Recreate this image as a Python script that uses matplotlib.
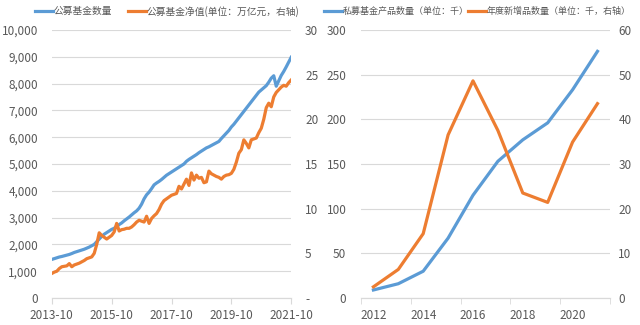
import numpy as np
import matplotlib
matplotlib.use("Agg")
import matplotlib.pyplot as plt
from matplotlib.lines import Line2D
from matplotlib.ticker import FuncFormatter, FixedLocator

plt.rcParams['font.family'] = ['Noto Sans CJK SC', 'DejaVu Sans']

# monthly, 2013-10 .. 2021-10
fund_count = [
    1440, 1470, 1500, 1530, 1550, 1575, 1600, 1625, 1660, 1700, 1730, 1760,
    1790, 1820, 1860, 1900, 1950, 2000, 2100, 2200, 2300, 2380, 2440, 2500,
    2560, 2600, 2680, 2740, 2800, 2880, 2950, 3020, 3100, 3180, 3250, 3350,
    3500, 3700, 3850, 3950, 4080, 4220, 4290, 4350, 4420, 4500, 4580, 4640,
    4700, 4760, 4820, 4880, 4940, 5000, 5100, 5170, 5230, 5290, 5350, 5420,
    5480, 5540, 5600, 5640, 5690, 5740, 5790, 5840, 5950, 6050, 6150, 6250,
    6380, 6480, 6600, 6720, 6840, 6960, 7080, 7200, 7320, 7440, 7560, 7680,
    7760, 7840, 7920, 8050, 8200, 8290, 7900, 8100, 8300, 8450, 8620, 8800,
    8980,
]
net_value = [
    2.75, 2.9, 3.0, 3.3, 3.5, 3.55, 3.6, 3.85, 3.5, 3.7, 3.8, 3.9,
    4.05, 4.2, 4.4, 4.5, 4.6, 5.0, 6.0, 7.3, 7.0, 6.8, 6.6, 6.8,
    7.0, 7.4, 8.35, 7.5, 7.65, 7.7, 7.8, 7.8, 7.95, 8.2, 8.5, 8.7,
    8.6, 8.5, 9.15, 8.35, 8.9, 9.2, 9.45, 9.9, 10.5, 10.9, 11.1, 11.3,
    11.5, 11.6, 11.7, 12.5, 12.2, 12.75, 13.3, 12.6, 14.0, 13.2, 13.75, 13.4,
    13.5, 12.9, 13.0, 14.2, 13.9, 13.75, 13.6, 13.5, 13.3, 13.6, 13.75, 13.8,
    13.95, 14.4, 15.2, 16.2, 16.6, 17.7, 17.3, 16.8, 17.7, 17.8, 17.9, 18.5,
    19.0, 20.0, 21.3, 21.8, 21.4, 22.5, 23.0, 23.3, 23.6, 23.8, 23.7, 24.1,
    24.4,
]
month_labels = ['2013-10', '2015-10', '2017-10', '2019-10', '2021-10']

years = [2012, 2013, 2014, 2015, 2016, 2017, 2018, 2019, 2020, 2021]
private_products = [9, 16, 30, 67, 115, 153, 177, 196, 233, 276]
new_products = [2.5, 6.4, 14.4, 36.5, 48.6, 37.5, 23.5, 21.4, 34.9, 43.5]

BLUE = '#5B9BD5'
ORANGE = '#ED7D31'
GRID = '#D9D9D9'
TXT = '#595959'
LW = 2.3

fig = plt.figure(figsize=(6.4, 3.25), dpi=100)


def style(ax, pad):
    for s in ax.spines.values():
        s.set_visible(False)
    ax.tick_params(axis='y', length=0, labelsize=8.5, labelcolor=TXT, pad=pad)
    ax.tick_params(axis='x', labelsize=8.5, labelcolor=TXT, color=GRID,
                   length=4, pad=4)
    ax.spines['bottom'].set_visible(True)
    ax.spines['bottom'].set_color(GRID)


# left panel: public funds
ax1 = fig.add_axes([0.081, 0.083, 0.374, 0.825])
ax1b = ax1.twinx()
months = np.arange(len(fund_count))
ax1.plot(months, fund_count, color=BLUE, lw=LW, zorder=3)
ax1b.plot(months, net_value, color=ORANGE, lw=LW, zorder=3)
ax1.set_xlim(0, 96)
ax1.set_ylim(0, 10000)
ax1b.set_ylim(0, 30)
ax1.set_yticks(np.arange(0, 10001, 1000))
ax1b.set_yticks(np.arange(0, 31, 5))
ax1.yaxis.set_major_formatter(FuncFormatter(lambda v, p: f'{v:,.0f}'))
ax1b.yaxis.set_major_formatter(FuncFormatter(lambda v, p: '-' if v == 0 else f'{v:.0f}'))
ax1.set_xticks(np.arange(0, 97, 24))
ax1.set_xticklabels(month_labels)
ax1.grid(axis='y', color=GRID, lw=0.8)
ax1.set_axisbelow(True)
style(ax1, 10)
style(ax1b, 10)

# right panel: private funds
ax2 = fig.add_axes([0.564, 0.083, 0.389, 0.825])
ax2b = ax2.twinx()
pos = np.arange(len(years))
ax2.plot(pos, private_products, color=BLUE, lw=LW, zorder=3)
ax2b.plot(pos, new_products, color=ORANGE, lw=LW, zorder=3)
ax2.set_xlim(-0.5, len(years) - 0.5)
ax2.set_ylim(0, 300)
ax2b.set_ylim(0, 60)
ax2.set_yticks(np.arange(0, 301, 50))
ax2b.set_yticks(np.arange(0, 61, 10))
ax2.set_xticks(pos[::2])
ax2.set_xticklabels([str(y) for y in years[::2]])
ax2.xaxis.set_minor_locator(FixedLocator(np.arange(-0.5, len(years), 2)))
ax2.grid(axis='y', color=GRID, lw=0.8)
ax2.set_axisbelow(True)
style(ax2, 10.5)
style(ax2b, 6)
ax2.tick_params(axis='x', which='major', length=0, pad=8)
ax2.tick_params(axis='x', which='minor', length=4, color=GRID)

# legend entries placed one by one along the top
entries = [
    (35, BLUE, '公募基金数量', 7.0),
    (128, ORANGE, '公募基金净值(单位：万亿元，右轴)', 7.0),
    (324, BLUE, '私募基金产品数量（单位：千）', 6.5),
    (468, ORANGE, '年度新增品数量（单位：千，右轴）', 6.5),
]
for x0, col, lab, fs in entries:
    fig.legend([Line2D([], [], color=col, lw=LW)], [lab], loc='center left',
               bbox_to_anchor=(x0 / 640, 0.965), frameon=False, fontsize=fs,
               handlelength=1.9 * 7.0 / fs, handletextpad=0.05, labelcolor=TXT,
               borderpad=0, borderaxespad=0)

fig.savefig('out.png', dpi=100)
